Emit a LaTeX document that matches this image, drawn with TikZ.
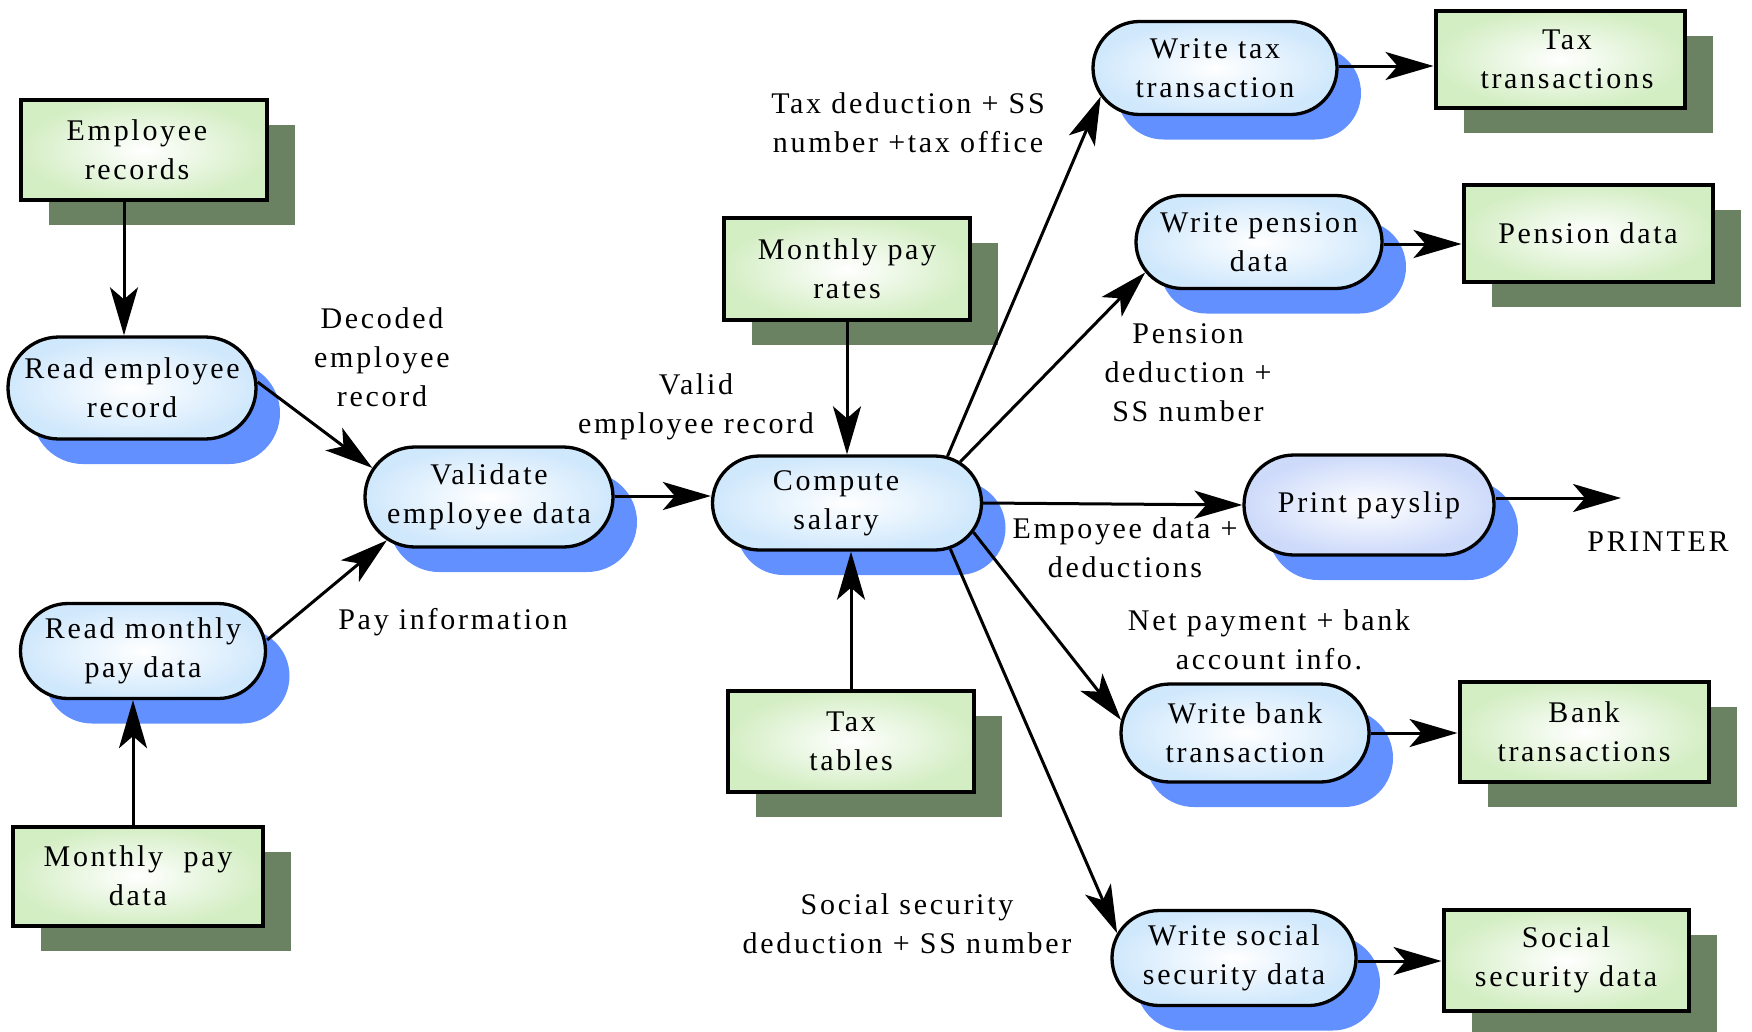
\documentclass[tikz,border=0pt]{standalone}
\usepackage{fontspec}
\setmainfont{Liberation Serif}[LetterSpace=9]
\usetikzlibrary{shapes.misc,shadows,arrows.meta}
\definecolor{shblue}{RGB}{98,145,255}
\definecolor{shgreen}{RGB}{107,130,98}
\definecolor{pblue}{RGB}{208,232,252}
\definecolor{plav}{RGB}{205,218,250}
\definecolor{dgreen}{RGB}{212,238,196}
\begin{document}
\begin{tikzpicture}[x=1pt,y=-1pt,
  every node/.style={font=\fontsize{30}{39}\selectfont, align=center, inner sep=0pt},
  proc/.style={rounded rectangle, draw=black, line width=3.3pt,
    inner color=white, outer color=pblue,
    drop shadow={shadow xshift=24pt, shadow yshift=-25pt, fill=shblue, opacity=1}},
  store/.style={rectangle, draw=black, line width=4pt,
    inner color=white, outer color=dgreen,
    drop shadow={shadow xshift=28pt, shadow yshift=-25pt, fill=shgreen, opacity=1}},
  flow/.style={line width=3pt, -{Stealth[length=48pt,width=28pt,inset=12pt]}},
  lbl/.style={}
]
\useasboundingbox (0,0) rectangle (1752,1031);

% data stores
\node[store, minimum width=246pt, minimum height=100pt] (er) at (144,150) {Employee\hspace*{14pt}\\records\hspace*{14pt}};
\node[store, minimum width=246pt, minimum height=102pt] (mpr) at (847,269) {Monthly pay\\rates};
\node[store, minimum width=246pt, minimum height=101pt] (tt) at (851,741) {Tax\\tables};
\node[store, minimum width=250pt, minimum height=99pt] (mpd) at (138,876) {Monthly\ \ pay\\data};
\node[store, minimum width=249pt, minimum height=97pt] (tax) at (1560,59) {\hspace*{14pt}Tax\\\hspace*{14pt}transactions};
\node[store, minimum width=249pt, minimum height=97pt] (pd) at (1588,233) {Pension data};
\node[store, minimum width=249pt, minimum height=100pt] (bt) at (1584,732) {Bank\\transactions};
\node[store, minimum width=245pt, minimum height=101pt] (ssd) at (1566,960) {Social\\security data};

% processes
\node[proc, minimum width=248pt, minimum height=102pt] (rer) at (132,388) {Read employee\\record};
\node[proc, minimum width=245pt, minimum height=95pt] (rmp) at (143,651) {Read monthly\\pay data};
\node[proc, minimum width=248pt, minimum height=100pt] (val) at (489,497) {Validate\\employee data};
\node[proc, minimum width=269pt, minimum height=94pt] (cs) at (847,503) {Compute\hspace*{22pt}\\salary\hspace*{22pt}};
\node[proc, minimum width=244pt, minimum height=93pt] (wtt) at (1215,68) {Write tax\\transaction};
\node[proc, minimum width=246pt, minimum height=93pt] (wpd) at (1259,242) {Write pension\\data};
\node[proc, minimum width=250pt, minimum height=100pt, outer color=plav] (pp) at (1369,505) {Print payslip};
\node[proc, minimum width=248pt, minimum height=98pt] (wbt) at (1245,733) {Write bank\\transaction};
\node[proc, minimum width=244pt, minimum height=95pt] (wss) at (1234,958) {Write social\\security data};

% labels
\node[lbl] (l1) at (382,357) {Decoded\\employee\\record};
\node[lbl] (l2) at (696,407) {Valid\\employee record};
\node[lbl] (l3) at (453,622) {Pay information};
\node[lbl] (l4) at (908,123) {Tax deduction + SS\\number +tax office};
\node[lbl] (l5) at (1188,373) {Pension\\deduction +\\SS number};
\node[lbl] (l6) at (1125,548) {Empoyee data +\\deductions};
\node[lbl] (prn) at (1658,542) {PRINTER};
\node[lbl] (l7) at (1269,640) {Net payment + bank\\account info.};
\node[lbl] (l8) at (907,924) {Social security\\deduction + SS number};

\coordinate (x1) at (124,0);
\coordinate (x2) at (133,0);
\coordinate (prt) at (1621,498);

% connectors
\draw[flow] ([yshift=6pt]rer.east) -- (val.166);
\draw[flow] (er.south -| x1) -- (rer.north -| x1);
\draw[flow] (mpd.north -| x2) -- (rmp.south -| x2);
\draw[flow] ([yshift=11pt]rmp.east) -- (val.203);
\draw[flow] ([yshift=1pt]val.east) -- ([yshift=1pt]val.east -| cs.west);
\draw[flow] (mpr.south) -- (cs.north);
\draw[flow] (tt.north) -- (tt.north |- cs.south);
\draw[flow] (cs.25) -- (wtt.194);
\draw[flow] (cs.20) -- (wpd.195);
\draw[flow] (cs.east) -- (pp.west);
\draw[flow] (cs.347) -- (wbt.174);
\draw[flow] (cs.336) -- (wss.168);
\draw[flow] ([yshift=7pt]pp.east) -- (prt);
\draw[flow] ([yshift=2pt]wtt.east) -- ([yshift=2pt]wtt.east -| tax.west);
\draw[flow] ([yshift=-2pt]wpd.east) -- ([yshift=-2pt]wpd.east -| pd.west);
\draw[flow] (wbt.east) -- (wbt.east -| bt.west);
\draw[flow] ([yshift=-3pt]wss.east) -- ([yshift=-3pt]wss.east -| ssd.west);
\end{tikzpicture}
\end{document}
